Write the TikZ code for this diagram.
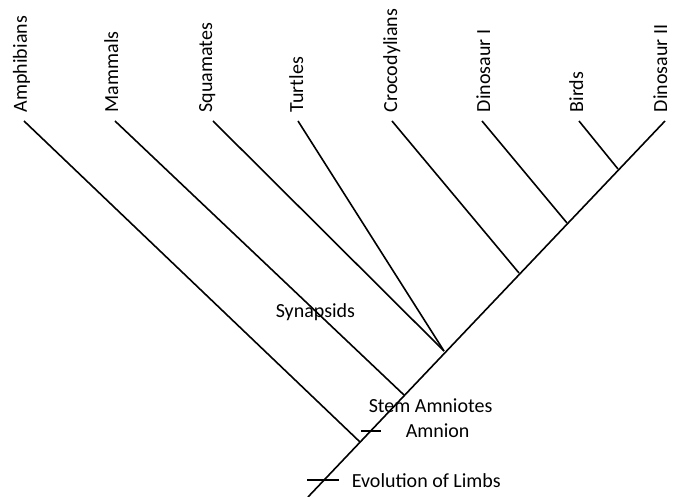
\documentclass[tikz,border=0pt]{standalone}
\usepackage{fontspec}
\setmainfont{Carlito}
\usepackage{tikz}

\begin{document}
\begin{tikzpicture}[x=1pt,y=-1pt,line width=1.6pt,
  taxon/.style={rotate=90,anchor=base west,inner sep=0pt,font=\fontsize{20}{24}\selectfont},
  note/.style={anchor=base west,inner sep=0pt,font=\fontsize{20}{24}\selectfont}]
\useasboundingbox (0,0) rectangle (673,497);
% main stem and the branching points along it
\coordinate (root) at (308,497);
\coordinate (jamph) at (360,442);
\coordinate (jmamm) at (404,395);
\coordinate (jrept) at (444,351);
\coordinate (jcroc) at (519,273);
\coordinate (jdino) at (567,223);
\coordinate (jbird) at (618,169);
\node[taxon] (dinoII) at (667,113) {Dinosaur II};
\coordinate (dinoII-end) at (665,121);
\draw (root) -- (dinoII-end);
% edit here for the taxa: name / label x / branch top x / joins at / text
\foreach \n/\lx/\tx/\j/\t in {amph/27/24/jamph/Amphibians,
    mamm/118/115/jmamm/Mammals,
    squa/212/213/jrept/Squamates,
    turt/303/298/jrept/Turtles,
    croc/397/392/jcroc/Crocodylians,
    dinoI/490/482/jdino/Dinosaur I,
    bird/583/579/jbird/Birds}
{
\node[taxon] (\n) at (\lx,113) {\t};
\coordinate (\n-end) at (\tx,121);
\draw (\n-end) -- (\j);
}
% characters on the stem
\coordinate (amnion-l) at (361,431);
\coordinate (amnion-r) at (381,431);
\draw (amnion-l) -- (amnion-r);
\coordinate (limbs-l) at (307,480);
\coordinate (limbs-r) at (339,480);
\draw (limbs-l) -- (limbs-r);
\node[note] (synapsids) at (275,318) {Synapsids};
\node[note] (stem) at (368,413) {Stem Amniotes};
\node[note] (amnion) at (405,438) {Amnion};
\node[note] (limbs) at (351,487) {Evolution of Limbs};
\end{tikzpicture}
\end{document}
